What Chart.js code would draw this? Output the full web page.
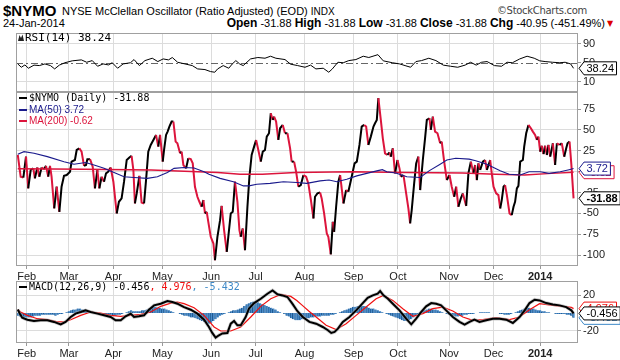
<!DOCTYPE html>
<html><head><meta charset="utf-8">
<script src="https://cdn.jsdelivr.net/npm/chart.js@4.4.1/dist/chart.umd.min.js"></script>
<style>
html,body{margin:0;padding:0;background:#fff}
body{width:620px;height:360px;overflow:hidden;position:relative;font-family:"Liberation Sans",Arial,sans-serif;color:#000}
canvas{position:absolute;left:0}
.h{position:absolute;white-space:nowrap}
</style></head><body>
<div class="h" style="left:3px;top:2px;font:bold 15px 'Liberation Sans',Arial">$NYMO</div>
<div class="h" style="left:62px;top:5px;font:11px 'Liberation Sans',Arial">NYSE McClellan Oscillator (Ratio Adjusted) (EOD) <span style="font-size:10px">INDX</span></div>
<div class="h" style="right:33px;top:5px;font:10px 'DejaVu Sans';color:#444;letter-spacing:-0.3px">©StockCharts.com</div>
<div class="h" style="left:3px;top:17px;font:11px 'Liberation Sans',Arial">24-Jan-2014</div>
<div class="h" style="right:15px;top:16px;font:11px 'Liberation Sans',Arial"><b style="font-size:12px">Open</b> -31.88 <b style="font-size:12px">High</b> -31.88 <b style="font-size:12px">Low</b> -31.88 <b style="font-size:12px">Close</b> -31.88 <b style="font-size:12px">Chg</b> -40.95 (-451.49%)</div>
<div class="h" style="left:607px;top:19px;font:8px 'DejaVu Sans';color:#d00">▼</div>
<canvas id="rsi" width="620" height="101" style="top:0"></canvas>
<canvas id="main" width="620" height="201" style="top:82px"></canvas>
<canvas id="macd" width="620" height="89" style="top:271px"></canvas>
<script>
// ---- data (x = trading-day index, day 0 = 28-Jan-2013) ----
const monthIdx=[4,23,43,65,87,107,129,151,171,194,214,235];
const monthLbl=['Feb','Mar','Apr','May','Jun','Jul','Aug','Sep','Oct','Nov','Dec','2014'];

const nymo=[[0,20],[1.3,-6],[2.5,-7],[3.7,18],[4.7,-20],[5.8,2],[7,4],[7.7,-8],[8.8,5],[9.7,-6],[10.7,5],[11.8,3],[12.7,7],[13.7,-6],[14.5,7],[15.2,-6],[16.4,-44],[17.5,-18],[18.7,-48],[19.7,-18],[20.8,-5],[22,-4],[23.5,0],[24.2,12],[25.7,14],[26.5,26],[27.7,28],[28.7,24],[29.8,7],[30.7,8],[31.3,15],[32.5,15],[33.7,6],[34.7,-20],[35.8,2],[36.7,-20],[37.7,-6],[38.8,-12],[39.7,-2],[40.7,0],[41.8,5],[43,-12],[44.5,-50],[45.5,-36],[46.7,-32],[47.8,-12],[49,14],[50.2,17],[51.2,19],[52,2],[52.7,-38],[53.5,-26],[54.7,-5],[55.7,-37],[56.8,-38],[57.7,-10],[58.7,24],[59.8,32],[61,38],[62.2,44],[63.2,30],[64,44],[65.2,12],[65.8,26],[66.7,44],[67.4,48],[68.2,54],[69.2,60],[70,60],[71,36],[71.8,34],[73,22],[73.7,24],[74.5,8],[75.7,4],[76.7,16],[77.8,15],[78.7,10],[79.7,-18],[80.8,-30],[81.7,-36],[82.7,-42],[83.5,-34],[84.2,-50],[85,-48],[85.7,-60],[86.8,-78],[88,-86],[88.7,-106],[89.8,-78],[91,-58],[91.7,-41],[92.8,-70],[94,-96],[94.7,-78],[95.8,-50],[96.7,-48],[97.7,-12],[98.8,-36],[99.7,-70],[100.3,-78],[101.2,-68],[102.2,-94],[103.3,-42],[104.2,-6],[105.2,20],[106.3,30],[107.2,38],[108.2,26],[109.3,12],[110.2,24],[111.2,26],[112,42],[113,46],[113.8,70],[114.7,62],[115.3,66],[116.2,60],[117.2,38],[118,52],[119.2,56],[120.2,46],[121.3,46],[122.5,28],[123.2,12],[124.3,12],[125.2,0],[126.2,-18],[127.3,-16],[128.5,-4],[129.7,-6],[130.7,-14],[131.8,-33],[133,-56],[133.7,-30],[134.8,-26],[136,-25],[136.7,-32],[137.8,-50],[139,-74],[139.7,-78],[140.8,-99],[141.7,-60],[142.3,-72],[143.2,-42],[144.2,-12],[145,-4],[146.5,-38],[147.7,-22],[148.7,-24],[150.2,-6],[151.5,10],[152.5,12],[153.7,32],[154.7,54],[155.8,56],[156.7,54],[157.7,32],[158.8,42],[160,54],[160.7,58],[161.5,62],[162.2,88],[163.3,62],[164.2,40],[165.2,22],[166.3,20],[167.2,23],[167.8,18],[168.7,28],[169.7,-2],[170.8,14],[171.7,4],[172.3,-6],[173.5,-4],[174.7,-26],[175.7,-44],[176.5,-62],[177.2,-46],[178.3,-14],[179.2,10],[180.2,18],[181,-22],[182.2,14],[183.2,40],[184,62],[185.2,64],[185.8,50],[186.7,66],[187.7,48],[188.8,46],[190,34],[190.7,36],[191.8,12],[193,-10],[194.2,-4],[195.2,-18],[196.3,-30],[197.2,-18],[198.2,-42],[199.3,-32],[200.2,-26],[200.8,-32],[201.7,-41],[202.7,-2],[203.8,12],[205,-2],[205.7,8],[206.5,-10],[207.2,10],[208,2],[209.2,12],[210.2,14],[211,2],[212.5,14],[213.2,-2],[214,-18],[215.2,-26],[216.2,-28],[217,-44],[217.7,-34],[218.5,-18],[219.2,-16],[220,-28],[221.2,-50],[222.2,-52],[223,-42],[223.7,-36],[224.5,-20],[225.2,-17],[226,12],[227.2,14],[227.8,30],[228.7,46],[229.7,56],[230.8,52],[231.7,48],[232.7,44],[233.5,38],[234.2,42],[235,24],[235.7,31],[236.5,21],[237.2,31],[238,20],[238.7,32],[239.5,18],[240.7,34],[241.7,8],[242.5,34],[243.7,32],[244.7,34],[245.8,18],[246.7,28],[247.3,34],[248.2,36],[249,9.07],[250,-31.88]];

const ma50=[[0,21],[2.8,24],[7.3,22],[13.3,18],[20.8,12],[25.3,9],[30.5,11],[34.3,8],[38.8,4],[43.3,-1],[47.8,-6],[52.3,-7],[58.3,-8],[62.8,-6],[67.3,-1],[70.3,4],[74.8,5],[79.3,4.4],[83.8,0],[86,-3],[91,-8],[97,-12],[101.5,-17],[104,-17],[107.5,-15],[113.5,-14],[119.5,-12],[125.5,-13],[130,-14],[136,-11],[140,-10],[143.5,-12],[148,-9],[152.5,-5],[157,-2],[161.5,1],[164,2.4],[166,0],[170,-1.5],[175,-6],[181,-7],[185,1],[190,9],[193,14],[197,16],[203,15],[206,13],[211,9],[217,1],[221,-3],[226,-4],[230,0],[235,0],[239,-2],[244,0],[248,2.4],[250,3.72]];

const ma200=[[0,3.5],[30,3],[60,2],[90,-1],[100,-3],[110,-3],[125,-1],[150,0],[175,-1],[200,-1.5],[215,-3],[228,-4],[240,-2],[250,-0.62]];

const rsi=[[0,47.5],[1.6,40.5],[3.2,45.4],[4.8,38.4],[7.3,45],[9.7,44],[12.2,47.5],[14.7,44],[16.6,37],[18.7,45],[21.2,50],[24.5,54],[28.6,56],[31,51],[33.5,54.5],[35.9,42.6],[38.4,47.5],[40.8,45.4],[42.5,50],[44.9,38.4],[47.4,47.5],[50.7,50],[52.3,56.7],[54.7,44],[57.2,54.5],[60.5,59.5],[63,52.5],[65.4,58],[67.8,56],[69.5,61],[71.9,51],[75.2,47.5],[78.5,44],[80.9,37],[84.2,35.6],[86.7,31.4],[88.6,30],[89.9,37],[92.4,44],[94.9,38.4],[96.5,47.5],[98.1,54.5],[99.8,47.5],[101.4,44],[104.7,58],[108,61],[111.2,59.5],[113.7,63.7],[116.1,59.5],[120.2,56.7],[122.7,47],[125.9,44],[129.2,40.5],[131.7,45],[134.1,37],[137.4,38.4],[139.9,30],[141.5,37],[144,51],[146.4,50],[148.9,54.5],[152.1,56.7],[155.4,63.7],[157.9,61],[162,67],[164.4,54],[168.5,50],[171.8,47.5],[174.2,44],[176.7,40.5],[179.1,52.5],[181.6,54.5],[184.9,59.5],[188.1,54.5],[191.4,45],[194.7,42.6],[197.9,40.5],[201.2,45],[203.7,51],[206.2,45],[208.6,51],[211.1,52.5],[214.4,44],[217.6,42.6],[220.1,51],[222.5,50],[225.8,58],[229.1,63.7],[232.3,59.5],[234.8,54],[237.2,52.5],[240.5,51],[243.8,50],[246.2,51],[248.7,47.5],[250,38.24]];

const macd=[[0,4],[1,-1],[2,-5.2],[4.3,-7.5],[7.3,-9],[10.3,-8.2],[13.3,-8.2],[16.3,-10],[19.3,-12.7],[21.5,-10],[23.8,-4.5],[26,-0.7],[28.3,1.1],[30.5,3],[32.8,1.1],[35.8,-0.7],[38.8,-2.6],[41.8,-4.5],[44,-8.2],[46.3,-8.2],[48.5,-3.7],[50.8,-0.7],[52.3,-4.5],[54.5,-3.7],[56.8,-2.6],[59,3.7],[61.3,8.6],[64.3,10.5],[67.3,13.5],[69.5,12.3],[71.8,10.5],[74.8,6.7],[77.8,3.7],[80.8,-0.7],[83.8,-7.5],[86,-15.7],[87.5,-22.4],[89,-27.7],[90.5,-25],[92,-23],[94.3,-22.4],[95.8,-12],[97.3,-9],[98.8,-13.8],[100.3,-13.8],[102.5,-4.5],[104,4.9],[106.3,11.2],[109.3,16],[112.3,21.7],[114.6,25.4],[116.8,21],[119,19.8],[121.3,18],[123.5,10.5],[125.8,2],[128.2,-4.5],[131.2,-10],[134.2,-12],[137.2,-15.7],[139.5,-19.4],[141,-22.4],[142.5,-21.3],[144,-17.6],[146.2,-10],[149.2,-4.5],[152.2,3],[155.2,11.2],[157.4,17.2],[159.7,19.8],[161.9,21.7],[163,24.7],[164.5,19.8],[166.5,16],[168.7,10.5],[171.7,3],[174.7,-6.4],[177,-12.7],[179.2,-6.4],[181.4,1.1],[183.7,7.5],[186,11.2],[188.2,10.5],[190.4,8.6],[192.7,3],[195.7,-4.5],[198.7,-10],[201,-13],[203.2,-10],[205.4,-7.5],[207.7,-10],[210.7,-8.2],[213.7,-6.4],[216.7,-6.4],[219.7,-7.5],[222.7,-11.2],[225.7,-4.5],[228,3],[230.2,11.2],[232.5,15],[234.7,14.2],[237.7,11.2],[240.7,9.7],[243.7,8.6],[246.7,6.7],[249,3],[250,-0.456]];

const signal=[[0,3.7],[1.3,1.1],[4.3,-2.6],[8.8,-6.4],[13.3,-7.5],[17.8,-10],[20.8,-10],[23.8,-7.5],[28.3,-2.6],[32.8,1.1],[37.3,0],[41.8,-2.6],[46.3,-3.7],[50.8,-2.6],[55.3,-1.5],[59.8,1.1],[64.3,7.5],[68.8,11.2],[71.8,12.3],[74.8,10.5],[79.3,6],[83.8,-2.6],[88.3,-15.7],[91.3,-20.2],[95.8,-20.2],[100.3,-15.7],[104.8,-4.5],[109.3,7.5],[113.8,16],[118.3,21],[122.8,18.7],[125.5,14],[128,8.6],[131,2],[134.2,-4.5],[138.7,-13.8],[143.2,-18.7],[147.7,-12],[152.2,-2.6],[156.7,6.7],[161.2,16],[164.5,19.8],[168.7,14.2],[173.2,4.9],[177.7,-3.7],[182.2,-0.7],[186.7,4.9],[191.2,6.7],[195.7,2.2],[200.2,-4.5],[204.7,-8.2],[209.2,-7.5],[215.2,-5.2],[221.2,-7.5],[225.7,-4.5],[230.2,3.7],[234.7,10.5],[240.7,8.6],[245.2,7.5],[249,6.3],[250,4.976]];

// histogram, one value per trading day from day 0
const hist=[-3,-4,-4,-5,-5, -5,-5,-4,-3,-3, -3,-2,-2,-2,-2, -2,-2,-3,-2,-1, -1,0,1,2,3, 4,4,5,5,4, 4,3,2,1,0, 0,-1,-1,0,-1,
 -1,-2,-2,-3,-3, -2,-2,-1,0,1, 2,3,2,2,2, 2,3,3,4,5, 6,7,7,6,6, 5,5,4,3,2, 1,0,0,-1,-2, -3,-3,-4,-5,-5,
 -6,-7,-8,-9,-10, -11,-12,-11,-9,-7, -5,-3,-2,-1,0, 1,2,3,3,4, 5,6,8,10,11, 12,13,13,12,11, 10,9,8,7,6, 5,4,2,1,0,
 -1,-3,-4,-6,-7, -8,-8,-8,-7,-7, -6,-6,-5,-5,-4, -4,-4,-3,-3,-3, -3,-2,-2,-1,0, 1,2,3,4,5, 6,7,7,8,8, 8,8,7,6,5,
 5,4,3,2,1, 0,-1,-2,-3,-4, -5,-6,-7,-8,-9, -9,-8,-7,-5,-3, -1,1,2,3,4, 5,5,4,4,3, 2,1,0,-1,-2, -3,-3,-4,-4,-3,
 -3,-2,-2,-1,-1, -1,0,0,1,1, 1,1,1,0,0, 0,0,-1,-1,-2, -2,-2,-1,0,1, 2,3,4,5,6, 6,5,5,4,3, 3,2,2,1,1,
 0,0,-1,-1,-1, -1,-1,-2,-2,-3, -5.432];

const lastVals={nymo:-31.88, ma50:3.72, ma200:-0.62, rsi:38.24, macd:-0.456, signal:4.976, hist:-5.432};

// ---- helpers ----
const RED='#dc143c', NAVY='#1a1a8c', HBLUE='#3f8ac8';
const AX='"Liberation Sans", Arial, sans-serif';
const pts=a=>a.map(p=>({x:p[0],y:p[1]}));
function xAxis(labels){
  return {type:'linear',min:-0.8,max:252,offset:false,
    afterBuildTicks:s=>{s.ticks=monthIdx.map(v=>({value:v}));},
    ticks:{display:labels,autoSkip:false,maxRotation:0,padding:1,color:'#222',
      font:c=>({family:AX,size:11,weight:(c.index===11)?'bold':'normal'}),
      callback:v=>monthLbl[monthIdx.indexOf(v)]},
    grid:{offset:false,color:'#dcdcdc',lineWidth:1,drawTicks:labels,tickLength:3,tickColor:'#999'},
    border:{display:false},
    afterFit:s=>{s.height=labels?17:0;}};
}
function yAxis(min,max,vals,gridColor){
  return {position:'right',min,max,
    afterBuildTicks:s=>{s.ticks=vals.map(v=>({value:v}));},
    ticks:{color:'#222',font:{family:AX,size:11},padding:2,crossAlign:'near',callback:v=>String(v)},
    grid:{color:gridColor||'#dcdcdc',lineWidth:1,drawTicks:true,tickLength:3,tickColor:'#999'},
    border:{display:false},
    afterFit:s=>{s.width=42;}};
}
const frame={id:'frame',afterDatasetsDraw(ch){const a=ch.chartArea,c=ch.ctx;c.save();c.strokeStyle='#a0a0a0';c.lineWidth=1;
  c.strokeRect(Math.round(a.left)+0.5,Math.round(a.top)+0.5,Math.round(a.right-a.left)-1,Math.round(a.bottom-a.top)-1);c.restore();}};
function tag(c,x,y,text,color,bold){
  c.save();c.font=(bold?'bold ':'')+'11px '+AX;
  const tw=c.measureText(text).width,h=13,x1=x+5,x2=x1+tw+5;
  c.beginPath();c.moveTo(x,y);c.lineTo(x1,y-h/2);c.lineTo(x2,y-h/2);c.lineTo(x2,y+h/2);c.lineTo(x1,y+h/2);c.closePath();
  c.fillStyle='#fff';c.fill();c.strokeStyle=color;c.lineWidth=1;c.stroke();
  c.fillStyle=color;c.textBaseline='middle';c.textAlign='left';c.fillText(text,x1+2.5,y+0.5);c.restore();
}
function legendLine(c,x,y,color,w){c.save();c.strokeStyle=color;c.lineWidth=w||2;c.beginPath();c.moveTo(x,y);c.lineTo(x+8,y);c.stroke();c.restore();}
const common={responsive:false,animation:false,events:[],plugins:{legend:{display:false},tooltip:{enabled:false}}};

// ---- RSI panel ----
new Chart(document.getElementById('rsi'),{type:'line',
  data:{datasets:[{data:pts(rsi),borderColor:'#000',borderWidth:1,pointRadius:0,tension:0}]},
  options:{...common,layout:{padding:{left:16,top:33,right:0,bottom:9}},
    scales:{x:xAxis(false),y:yAxis(-11.6,112.6,[10,30,50,70,90],c=>{const v=c.tick&&c.tick.value;return (v===30||v===70)?'#808080':(v===50?'rgba(0,0,0,0)':'#dcdcdc');})}},
  plugins:[frame,{id:'rsiX',beforeDatasetsDraw(ch){const c=ch.ctx,a=ch.chartArea,y=Math.round(ch.scales.y.getPixelForValue(50))+0.5;
      c.save();c.strokeStyle='#666';c.setLineDash([7,3,2,3]);c.beginPath();c.moveTo(a.left,y);c.lineTo(a.right,y);c.stroke();c.restore();},
    afterDraw(ch){const c=ch.ctx,a=ch.chartArea;
      c.save();c.fillStyle='#222';c.beginPath();c.moveTo(18,41);c.lineTo(19.5,35);c.lineTo(21,38);c.lineTo(22.5,34.5);c.lineTo(24,41);c.closePath();c.fill();
      c.font='11px "DejaVu Sans Mono"';c.textBaseline='middle';c.fillStyle='#000';c.fillText('RSI(14) 38.24',25,38);c.restore();
      tag(c,a.right+1,ch.scales.y.getPixelForValue(lastVals.rsi),'38.24','#000',false);}}]});

// ---- main panel ----
new Chart(document.getElementById('main'),{type:'line',
  data:{datasets:[
    {data:pts(ma50),borderColor:NAVY,borderWidth:1.1,pointRadius:0,tension:0},
    {data:pts(ma200),borderColor:RED,borderWidth:1.4,pointRadius:0,tension:0},
    {data:pts(nymo),borderColor:'#000',borderWidth:2,pointRadius:0,tension:0,
      segment:{borderColor:c=>c.p1.parsed.y<c.p0.parsed.y?RED:'#000'}}]},
  options:{...common,layout:{padding:{left:16,top:10,right:0,bottom:0}},
    scales:{x:xAxis(true),y:yAxis(-112.9,95.4,[-100,-75,-50,-25,0,25,50,75])}},
  plugins:[frame,{id:'mainX',afterDraw(ch){const c=ch.ctx,a=ch.chartArea,ys=ch.scales.y;
      c.save();c.textBaseline='middle';
      legendLine(c,19,a.top+6,'#000',2);
      c.font='10px "DejaVu Sans Mono"';c.fillStyle='#000';c.fillText('$NYMO (Daily) -31.88',29,a.top+6);
      legendLine(c,19,a.top+18,NAVY,2);
      c.font='10px '+AX;c.fillStyle=NAVY;c.fillText('MA(50) 3.72',29,a.top+18);
      legendLine(c,19,a.top+29,RED,2);
      c.fillStyle=RED;c.fillText('MA(200) -0.62',29,a.top+29);
      c.restore();
      tag(c,a.right+1,ys.getPixelForValue(lastVals.ma200),'-0.62',RED,false);
      tag(c,a.right+1,ys.getPixelForValue(lastVals.ma50),'3.72',NAVY,false);
      tag(c,a.right+1,ys.getPixelForValue(lastVals.nymo),'-31.88','#000',true);}}]});

// ---- MACD panel ----
new Chart(document.getElementById('macd'),{type:'line',
  data:{datasets:[
    {data:pts(macd),borderColor:'#000',borderWidth:2,pointRadius:0,tension:0},
    {data:pts(macd),borderColor:'rgba(170,170,170,0.6)',borderWidth:3.5,pointRadius:0,tension:0},
    {data:pts(signal),borderColor:'#f01010',borderWidth:1.2,pointRadius:0,tension:0},
    {type:'bar',data:hist.map((v,i)=>({x:i,y:v})),backgroundColor:'#4a8cca',borderColor:'#1f5a92',
      borderWidth:{left:1,right:0,top:0,bottom:0},borderSkipped:false,barPercentage:1,categoryPercentage:1}]},
  options:{...common,layout:{padding:{left:16,top:10,right:0,bottom:0}},
    scales:{x:xAxis(true),y:yAxis(-33.7,36,[-20,20])}},
  plugins:[frame,{id:'macdX',afterDraw(ch){const c=ch.ctx,a=ch.chartArea,ys=ch.scales.y;
      c.save();c.textBaseline='middle';legendLine(c,19,a.top+6,'#000',2);
      c.font='10px "DejaVu Sans Mono"';let x=29;const y=a.top+6;
      const parts=[['MACD(12,26,9) -0.456','#000'],[', 4.976','#f01010'],[', -5.432','#3f8ac8']];
      for(const [t,col] of parts){c.fillStyle=col;c.fillText(t,x,y);x+=c.measureText(t).width;}
      c.restore();
      tag(c,a.right+1,ys.getPixelForValue(lastVals.signal),'4.976','#f01010',false);
      tag(c,a.right+1,ys.getPixelForValue(lastVals.hist),'-5.432',HBLUE,false);
      tag(c,a.right+1,ys.getPixelForValue(lastVals.macd),'-0.456','#000',false);}}]});
</script>
</body></html>
